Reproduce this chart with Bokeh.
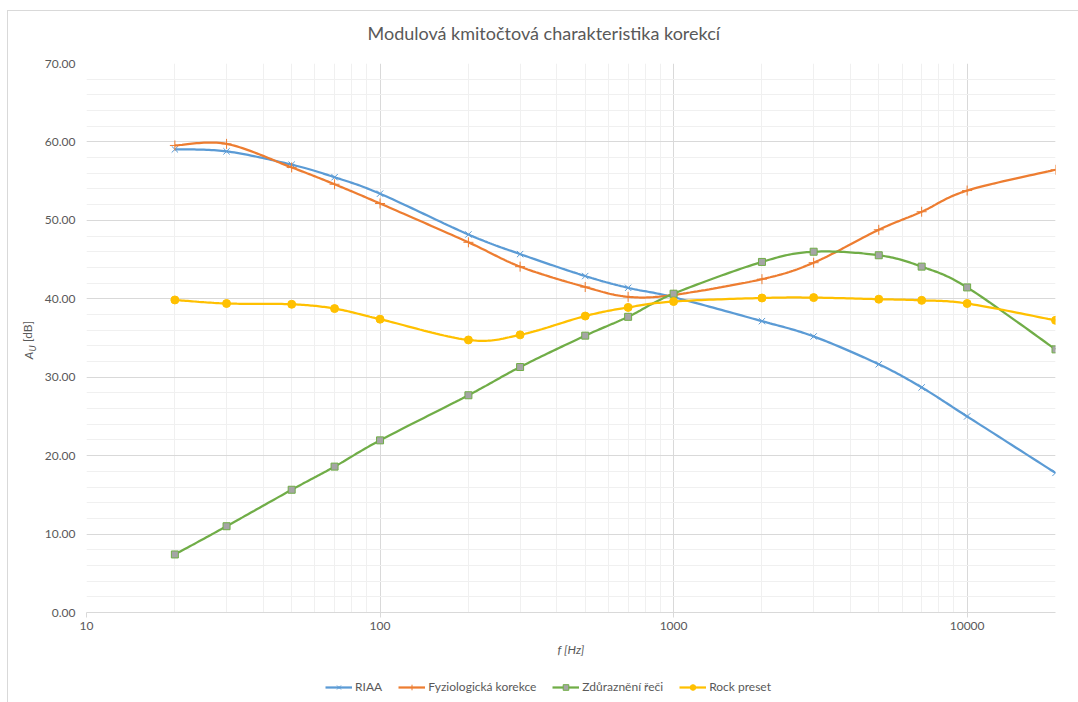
import numpy as np
from math import pi
from bokeh.plotting import figure
from bokeh.layouts import column
from bokeh.models import FixedTicker, NumeralTickFormatter, Legend, LegendItem, Label
from bokeh.embed import file_html
from bokeh.resources import INLINE

# ---- data ----
title_text = "Modulová kmitočtová charakteristika korekcí"
freq = [20, 30, 50, 70, 100, 200, 300, 500, 700, 1000, 2000, 3000, 5000, 7000, 10000, 20000]
riaa = [59.05, 58.8, 57.1, 55.5, 53.4, 48.2, 45.7, 42.9, 41.4, 40.2, 37.15, 35.2, 31.65, 28.7, 25.0, 17.8]
fyzio = [59.55, 59.75, 56.75, 54.6, 52.15, 47.2, 44.1, 41.5, 40.25, 40.5, 42.5, 44.6, 48.8, 51.1, 53.8, 56.45]
zdur = [7.4, 11.0, 15.65, 18.6, 21.95, 27.7, 31.3, 35.3, 37.7, 40.65, 44.7, 46.0, 45.55, 44.1, 41.45, 33.55]
rock = [39.85, 39.4, 39.3, 38.75, 37.4, 34.75, 35.4, 37.8, 38.9, 39.65, 40.1, 40.15, 39.95, 39.8, 39.4, 37.25]
series_names = ["RIAA", "Fyziologická korekce", "Zdůraznění řeči", "Rock preset"]
x_major = [10, 100, 1000, 10000]
x_minor = [m * d for d in (10, 100, 1000) for m in range(2, 10)] + [20000]
y_major = list(range(0, 71, 10))
y_minor = list(range(0, 71, 2))

FONT = "Lato"
TXT = "#595959"
GRID = "#d9d9d9"


def smooth(xs, ys, n=24):
    """Excel-like smoothed line (Catmull-Rom Bezier) in log-x space."""
    P = np.column_stack([np.log10(xs), np.asarray(ys, float)])
    outx, outy = [], []
    m = len(P)
    for i in range(m - 1):
        p0 = P[max(i - 1, 0)]
        p1 = P[i]
        p2 = P[i + 1]
        p3 = P[min(i + 2, m - 1)]
        c1 = p1 + (p2 - p0) / 6.0
        c2 = p2 - (p3 - p1) / 6.0
        t = np.linspace(0, 1, n, endpoint=(i == m - 2))[:, None]
        b = ((1 - t) ** 3) * p1 + 3 * ((1 - t) ** 2) * t * c1 + 3 * (1 - t) * t * t * c2 + (t ** 3) * p2
        outx.extend(10 ** b[:, 0])
        outy.extend(b[:, 1])
    return outx, outy


line_css = f"linear-gradient({GRID}, {GRID})"

p = figure(width=1078, height=670, x_axis_type="log", x_range=(10, 20000), y_range=(0, 70),
           output_backend="svg", toolbar_location=None,
           min_border_left=86, min_border_right=23, min_border_top=62, min_border_bottom=58)
p.styles = {"background": f"{line_css} 7px 10px / 1px calc(100% - 10px) no-repeat, "
                          f"{line_css} 7px 10px / calc(100% - 7px) 1px no-repeat, white"}
p.outline_line_color = None
p.background_fill_color = "white"
p.border_fill_color = None

# title
p.title.text = title_text
p.title.align = "left"
p.title.offset = 281
p.title.standoff = 39
p.title.text_font = FONT
p.title.text_font_size = "18px"
p.title.text_font_style = "normal"
p.title.text_color = TXT

# axes
xa = p.xaxis[0]
xa.ticker = FixedTicker(ticks=x_major, minor_ticks=x_minor)
xa.formatter = NumeralTickFormatter(format="0")
xa.axis_line_color = GRID
xa.major_tick_line_color = GRID
xa.major_tick_out = 5
xa.major_tick_in = 0
xa.minor_tick_line_color = None
xa.minor_tick_out = 0
xa.major_label_standoff = 4
xa.major_label_text_font = FONT
xa.major_label_text_font_size = "12px"
xa.major_label_text_color = TXT
xa.axis_label = "f [Hz]"
xa.axis_label_text_font = FONT
xa.axis_label_text_font_style = "italic"
xa.axis_label_text_font_size = "12px"
xa.axis_label_text_color = TXT
xa.axis_label_standoff = 9

ya = p.yaxis[0]
ya.ticker = FixedTicker(ticks=y_major, minor_ticks=y_minor)
ya.formatter = NumeralTickFormatter(format="0.00")
ya.axis_line_color = None
ya.major_tick_line_color = None
ya.minor_tick_line_color = None
ya.major_tick_out = 0
ya.minor_tick_out = 0
ya.major_label_standoff = 11
ya.major_label_text_font = FONT
ya.major_label_text_font_size = "12px"
ya.major_label_text_color = TXT

for g in (p.xgrid[0], p.ygrid[0]):
    g.grid_line_color = GRID
    g.minor_grid_line_color = "#f0f0f0"

# legend strip (second figure, same page)
pl = figure(width=1078, height=32, x_range=(0, 1), y_range=(0, 1),
            output_backend="svg", toolbar_location=None,
            x_axis_location=None, y_axis_location=None, min_border=0)
pl.styles = {"background": f"{line_css} 7px 0px / 1px 100% no-repeat, white"}
pl.outline_line_color = None
pl.background_fill_color = None
pl.border_fill_color = None
pl.grid.visible = False

# series
colors = ["#5B9BD5", "#ED7D31", "#70AD47", "#FFC000"]
markers = ["x", "cross", "square", "circle"]
fills = ["#5B9BD5", "#ED7D31", "#A5A5A5", "#FFC000"]
sizes = [9, 10, 7, 8]
items = []
for name, ys, col, mk, fc, sz in zip(series_names, [riaa, fyzio, zdur, rock], colors, markers, fills, sizes):
    sx, sy = smooth(freq, ys)
    p.line(sx, sy, line_color=col, line_width=2.25)
    p.scatter(freq, ys, marker=mk, size=sz, fill_color=fc, line_color=col, line_width=1)
    # legend proxies: first data point, which lies outside the strip's (0..1) ranges
    lr = pl.line(freq[:1], ys[:1], line_color=col, line_width=2.25)
    sr = pl.scatter(freq[:1], ys[:1], marker=mk, size=sz, fill_color=fc, line_color=col, line_width=1)
    items.append(LegendItem(label=name, renderers=[lr, sr]))

legend = Legend(items=items, orientation="horizontal", location=(239, 8),
                padding=0, margin=0, spacing=16, label_standoff=3,
                glyph_width=27, glyph_height=14, label_height=14,
                label_text_font=FONT, label_text_font_size="12px", label_text_color=TXT,
                border_line_color=None, background_fill_alpha=0)
pl.add_layout(legend, "center")

# y axis label A_U [dB] (pieces placed in the left side panel)
common = dict(x_units="screen", y_units="screen", angle=pi / 2, text_align="center",
              text_baseline="middle", text_font=FONT, text_color=TXT)
p.add_layout(Label(x=2, y=257, text="A", text_font_style="italic",
                   text_font_size="12px", **common), "left")
p.add_layout(Label(x=17, y=264, text="U", text_font_style="italic",
                   text_font_size="9px", **common), "left")
p.add_layout(Label(x=27, y=281, text="[dB]", text_font_size="12px", **common), "left")

open("out.html", "w").write(file_html(column(p, pl, spacing=0), INLINE))
